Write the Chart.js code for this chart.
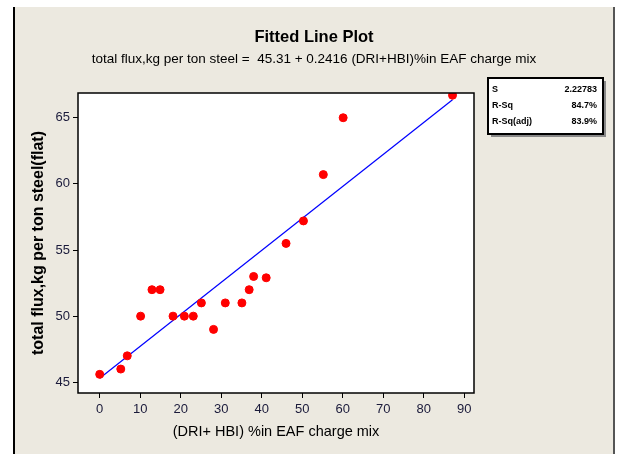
<!DOCTYPE html>
<html>
<head>
<meta charset="utf-8">
<script src="https://cdn.jsdelivr.net/npm/chart.js@4.4.1/dist/chart.umd.min.js"></script>
<style>
  html, body { margin: 0; padding: 0; background: #fff; }
  #frame {
    position: absolute; left: 13px; top: 7px;
    width: 598px; height: 447px;
    background: #ECE9E0;
    border-left: 2px solid #000;
    border-right: 2px solid #555;
  }
  #plot { display: block; }
</style>
</head>
<body>
<div id="frame"><canvas id="plot" width="598" height="447"></canvas></div>
<script>
// ── Data ──────────────────────────────────────────────────────────
const driPct = [0, 5.2, 6.8, 10.1, 12.9, 14.9, 18.1, 20.9, 23.1, 25.1, 28.1,
                31.0, 35.1, 36.9, 38.0, 41.1, 46.0, 50.3, 55.2, 60.1, 87.1];
const fluxKg = [45.6, 46.0, 47.0, 50.0, 52.0, 52.0, 50.0, 50.0, 50.0, 51.0, 49.0,
                51.0, 51.0, 52.0, 53.0, 52.9, 55.5, 57.2, 60.7, 65.0, 66.7];

// fitted line from the equation in the subtitle
const fitIntercept = 45.31;
const fitSlope     = 0.2416;

const xTicks = [0, 10, 20, 30, 40, 50, 60, 70, 80, 90];
const yTicks = [45, 50, 55, 60, 65];

const statLabels = ['S', 'R-Sq', 'R-Sq(adj)'];
const statValues = ['2.22783', '84.7%', '83.9%'];

const FONT = 'Liberation Sans';

const xMin = Math.min(...driPct), xMax = Math.max(...driPct);
const fitLine = [
  { x: xMin, y: fitIntercept + fitSlope * xMin },
  { x: xMax, y: fitIntercept + fitSlope * xMax }
];

// ── Decorations: white plot box, frame, titles, stats box ────────
const minitabLook = {
  id: 'minitabLook',
  beforeDatasetsDraw(chart) {
    const { ctx, chartArea: a } = chart;
    ctx.save();
    ctx.fillStyle = '#fff';
    ctx.fillRect(a.left, a.top, a.right - a.left, a.bottom - a.top);
    ctx.restore();
  },
  afterDraw(chart) {
    const { ctx, chartArea: a, width } = chart;
    ctx.save();
    // plot frame
    ctx.strokeStyle = '#000';
    ctx.lineWidth = 1.5;
    ctx.strokeRect(a.left, a.top, a.right - a.left, a.bottom - a.top);

    // titles
    ctx.fillStyle = '#000';
    ctx.textAlign = 'center';
    ctx.textBaseline = 'middle';
    ctx.font = 'bold 16.5px ' + FONT;
    ctx.fillText('Fitted Line Plot', width / 2, 30);
    ctx.font = '13.5px ' + FONT;
    ctx.fillText('total flux,kg per ton steel =  45.31 + 0.2416 (DRI+HBI)%in EAF charge mix', width / 2, 52);

    // stats box
    const bx = 473, by = 71, bw = 115, bh = 56;
    ctx.fillStyle = '#888';
    ctx.fillRect(bx + 3, by + 3, bw, bh);
    ctx.fillStyle = '#fff';
    ctx.fillRect(bx, by, bw, bh);
    ctx.strokeStyle = '#000';
    ctx.lineWidth = 2;
    ctx.strokeRect(bx, by, bw, bh);
    ctx.font = 'bold 9px ' + FONT;
    ctx.fillStyle = '#000';
    statLabels.forEach((lab, i) => {
      const y = by + 12 + i * 16;
      ctx.textAlign = 'left';
      ctx.fillText(lab, bx + 4, y);
      ctx.textAlign = 'right';
      ctx.fillText(statValues[i], bx + bw - 6, y);
    });
    ctx.restore();
  }
};

new Chart(document.getElementById('plot').getContext('2d'), {
  type: 'scatter',
  data: {
    datasets: [{
      label: 'Data',
      data: driPct.map((x, i) => ({ x, y: fluxKg[i] })),
      backgroundColor: '#FF0000',
      borderColor: '#FF0000',
      pointStyle: 'circle',
      pointRadius: 4,
      order: 1
    }, {
      type: 'line',
      label: 'Fit',
      data: fitLine,
      borderColor: '#0000FF',
      borderWidth: 1.2,
      pointRadius: 0,
      fill: false,
      order: 2
    }]
  },
  options: {
    responsive: false,
    animation: false,
    layout: { padding: { top: 86, right: 139, bottom: 0, left: 0 } },
    plugins: { legend: { display: false }, tooltip: { enabled: false } },
    scales: {
      x: {
        type: 'linear',
        min: -5.36, max: 92.4,
        afterBuildTicks: s => { s.ticks = xTicks.map(v => ({ value: v })); },
        afterFit: s => { s.height = 61; },
        grid: { display: true, drawOnChartArea: false, drawTicks: true, tickLength: 5, color: '#000', lineWidth: 1 },
        border: { display: false },
        ticks: { color: '#1a1a3a', font: { family: FONT, size: 13 }, padding: 4, maxRotation: 0 },
        title: { display: true, text: '(DRI+ HBI) %in EAF charge mix', color: '#000',
                 font: { family: FONT, size: 14.5 }, padding: { top: 0, bottom: 13 } }
      },
      y: {
        type: 'linear',
        min: 44.19, max: 66.87,
        afterBuildTicks: s => { s.ticks = yTicks.map(v => ({ value: v })); },
        afterFit: s => { s.width = 63; },
        grid: { display: true, drawOnChartArea: false, drawTicks: true, tickLength: 5, color: '#000', lineWidth: 1 },
        border: { display: false },
        ticks: { color: '#1a1a3a', font: { family: FONT, size: 13 }, padding: 3 },
        title: { display: true, text: 'total flux,kg per ton steel(flat)', color: '#000',
                 font: { family: FONT, size: 16, weight: 'bold' }, padding: { top: 14, bottom: 0 } }
      }
    }
  },
  plugins: [minitabLook]
});
</script>
</body>
</html>
